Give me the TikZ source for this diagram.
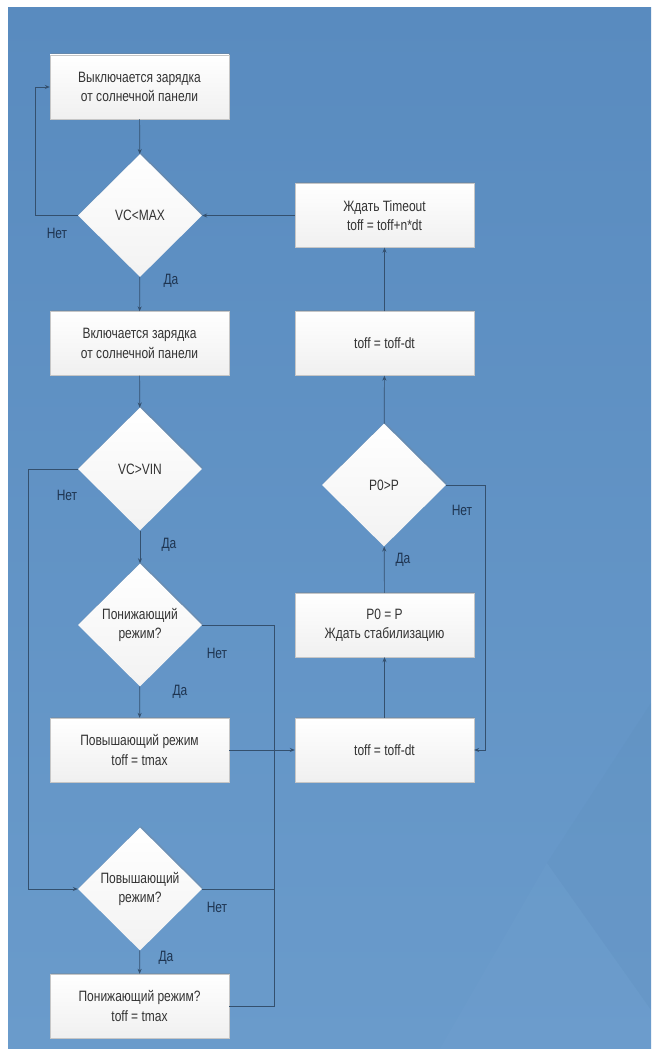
\documentclass[tikz,border=0pt]{standalone}
\usepackage{fontspec}
\setmainfont[FakeStretch=0.8]{Liberation Sans}
\usetikzlibrary{shapes.geometric,arrows.meta,shadows}

\definecolor{bgtop}{HTML}{598BBF}
\definecolor{bgbot}{HTML}{6A9BCB}
\definecolor{lncol}{HTML}{34506E}
\definecolor{txcol}{HTML}{333333}
\definecolor{lbcol}{HTML}{1E3450}

\begin{document}
\begin{tikzpicture}[x=1pt,y=-1pt,
  font=\fontsize{15}{19.5}\selectfont,
  box/.style={rectangle,draw=gray!45,line width=0.4pt,top color=white,bottom color=gray!12,
    minimum width=179pt,minimum height=64pt,align=center,text=txcol,
    drop shadow={shadow xshift=1pt,shadow yshift=1.5pt,opacity=0.3}},
  test/.style={diamond,top color=white,bottom color=gray!10,inner sep=0pt,
    minimum width=124pt,minimum height=123pt,align=center,text=txcol,
    drop shadow={shadow xshift=1pt,shadow yshift=1.5pt,opacity=0.25}},
  lbl/.style={text=lbcol},
  line/.style={draw=lncol,line width=0.7pt},
  arr/.style={line,-{Stealth[length=5pt,width=4pt]}}]

  % background
  \useasboundingbox (0,0) rectangle (651,1049);
  \shade[top color=bgtop,bottom color=bgbot] (8,8) rectangle (651,1049);
  \fill[bgtop!85!black,opacity=0.06] (651,703) -- (547,863) -- (651,1010) -- cycle;
  \fill[white,opacity=0.02] (547,863) -- (440,1049) -- (651,1049) -- (651,1010) -- cycle;

  % left column
  \node[box] (b1) at (139.5,87) {Выключается зарядка\\от солнечной панели};
  \node[test] (d1) at (140,215.5) {VC<MAX};
  \node[box] (b2) at (139.5,343.5) {Включается зарядка\\от солнечной панели};
  \node[test] (d2) at (140,469) {VC>VIN};
  \node[test] (d3) at (140,625) {Понижающий\\режим?};
  \node[box] (b3) at (139.5,750) {Повышающий режим\\toff = tmax};
  \node[test] (d4) at (140,889) {Повышающий\\режим?};
  \node[box] (b4) at (139.5,1006) {Понижающий режим?\\toff = tmax};

  % right column
  \node[box] (r1) at (384.5,215.5) {Ждать Timeout\\toff = toff+n*dt};
  \node[box] (r2) at (384.5,343.5) {toff = toff-dt};
  \node[test] (d5) at (384,485) {P0>P};
  \node[box] (r3) at (384.5,625) {P0 = P\\Ждать стабилизацию};
  \node[box] (r4) at (384.5,750) {toff = toff-dt};

  % rails
  \coordinate (railA) at (35,0);
  \coordinate (railB) at (28,0);
  \coordinate (railM) at (274,0);
  \coordinate (railR) at (485,0);

  % connectors
  \draw[arr] (b1) -- (d1);
  \draw[arr] (d1.west) -- (d1.west -| railA) |- (b1.west);
  \draw[arr] (d1) -- (b2);
  \draw[arr] (r1) -- (d1.east);
  \draw[arr] (r2) -- (r1);
  \draw[arr] (b2) -- (d2);
  \draw[arr] (d2.west) -- (d2.west -| railB) |- (d4.west);
  \draw[arr] (d2) -- (d3);
  \draw[arr] (d3) -- (b3);
  \draw[arr] (d4) -- (b4);
  \draw[line] (d3.east) -| (b4.east -| railM) -- (b4.east);
  \draw[line] (d4.east) -- (d4.east -| railM);
  \draw[arr] (b3.east) -- (r4.west);
  \draw[arr] (r4) -- (r3);
  \draw[arr] (r3) -- (d5);
  \draw[arr] (d5) -- (r2);
  \draw[arr] (d5.east) -| (r4.east -| railR) -- (r4.east);

  % labels
  \node[lbl] (n1) at (57,233) {Нет};
  \node[lbl] (y1) at (171,281) {Да};
  \node[lbl] (n2) at (67,495) {Нет};
  \node[lbl] (y2) at (169,545) {Да};
  \node[lbl] (n3) at (217,653) {Нет};
  \node[lbl] (y3) at (180,692) {Да};
  \node[lbl] (n4) at (217,907) {Нет};
  \node[lbl] (y4) at (166,958) {Да};
  \node[lbl] (y5) at (403,560) {Да};
  \node[lbl] (n5) at (462,510) {Нет};
\end{tikzpicture}
\end{document}
